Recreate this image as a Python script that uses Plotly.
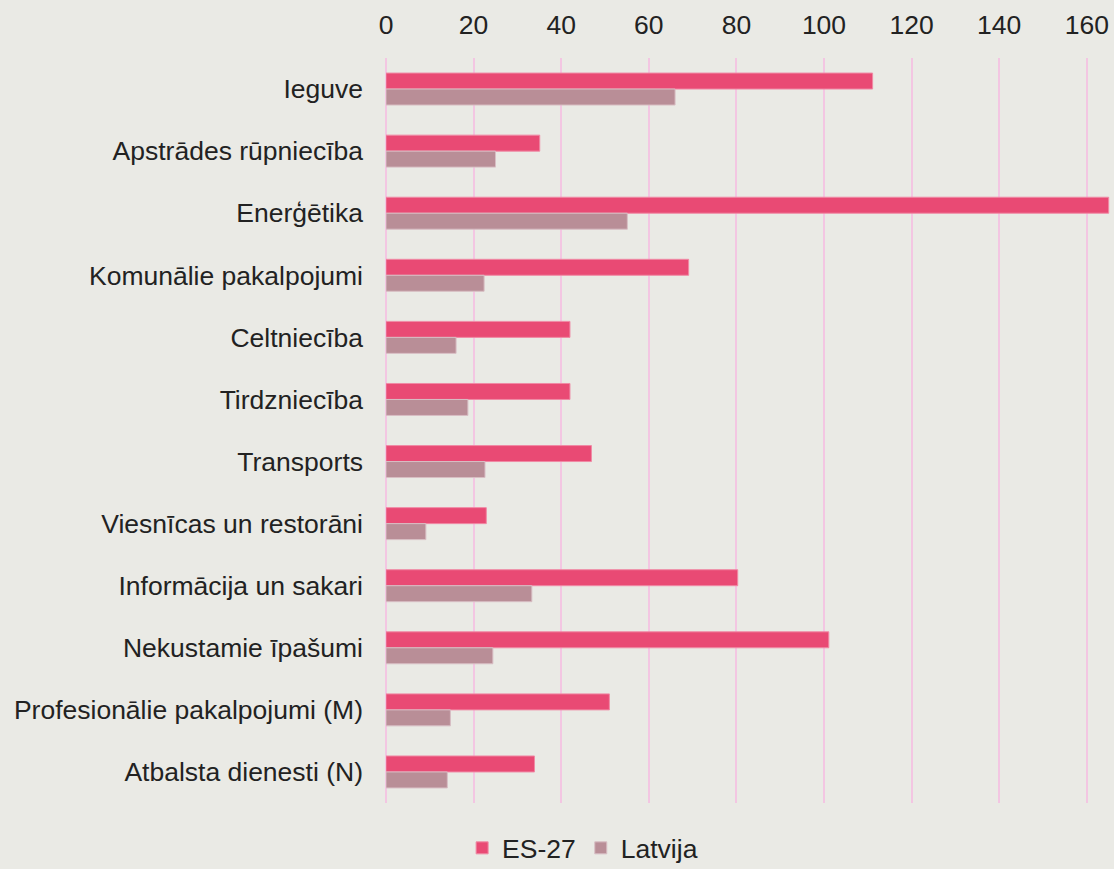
import plotly.graph_objects as go

categories = [
    "Ieguve",
    "Apstrādes rūpniecība",
    "Enerģētika",
    "Komunālie pakalpojumi",
    "Celtniecība",
    "Tirdzniecība",
    "Transports",
    "Viesnīcas un restorāni",
    "Informācija un sakari",
    "Nekustamie īpašumi",
    "Profesionālie pakalpojumi (M)",
    "Atbalsta dienesti (N)",
]
es27 = [111.1, 35.1, 165.0, 69.1, 42.0, 42.0, 46.9, 22.9, 80.3, 101.1, 51.0, 33.9]
latvija = [66.0, 25.0, 55.1, 22.4, 16.0, 18.7, 22.6, 9.1, 33.3, 24.4, 14.7, 14.0]
x_ticks = [0, 20, 40, 60, 80, 100, 120, 140, 160]

FONT = "Liberation Sans, Arial, sans-serif"
TXT = "#222222"
BG = "#EAEAE5"
FS = 26.5

fig = go.Figure()
fig.add_trace(go.Bar(
    y=categories, x=es27, name="ES-27", orientation="h",
    marker=dict(color="#E94A74", line=dict(color="#F08AA5", width=1)),
))
fig.add_trace(go.Bar(
    y=categories, x=latvija, name="Latvija", orientation="h",
    marker=dict(color="#B98E97", line=dict(color="#D8BEC4", width=1)),
))

fig.update_layout(
    width=1114, height=869,
    paper_bgcolor=BG, plot_bgcolor=BG,
    margin=dict(l=386, r=4, t=58, b=66),
    barmode="group", bargap=0.485, bargroupgap=0,
    font=dict(family=FONT, size=FS, color=TXT),
    showlegend=True,
    legend=dict(
        orientation="h", xref="container", yref="container",
        x=0.523, y=0.024, xanchor="center", yanchor="middle",
        font=dict(family=FONT, size=FS, color=TXT),
        bgcolor="rgba(0,0,0,0)", itemwidth=30, traceorder="normal",
    ),
)
fig.update_xaxes(
    side="top", range=[0, 165.3], tickvals=x_ticks,
    showgrid=True, gridcolor="#F3C6E2", gridwidth=2,
    zeroline=True, zerolinecolor="#F3C6E2", zerolinewidth=2,
    showline=False, ticks="", ticklabelstandoff=18,
    tickfont=dict(size=FS, color=TXT),
)
fig.update_yaxes(
    autorange="reversed", showgrid=False, zeroline=False, showline=False,
    ticks="", ticklabelstandoff=22, tickfont=dict(size=FS, color=TXT),
)

fig.write_html(
    "out.html",
    config={"displayModeBar": False},
    post_script="document.body.style.margin='0';document.body.style.background='#EAEAE5';",
)
